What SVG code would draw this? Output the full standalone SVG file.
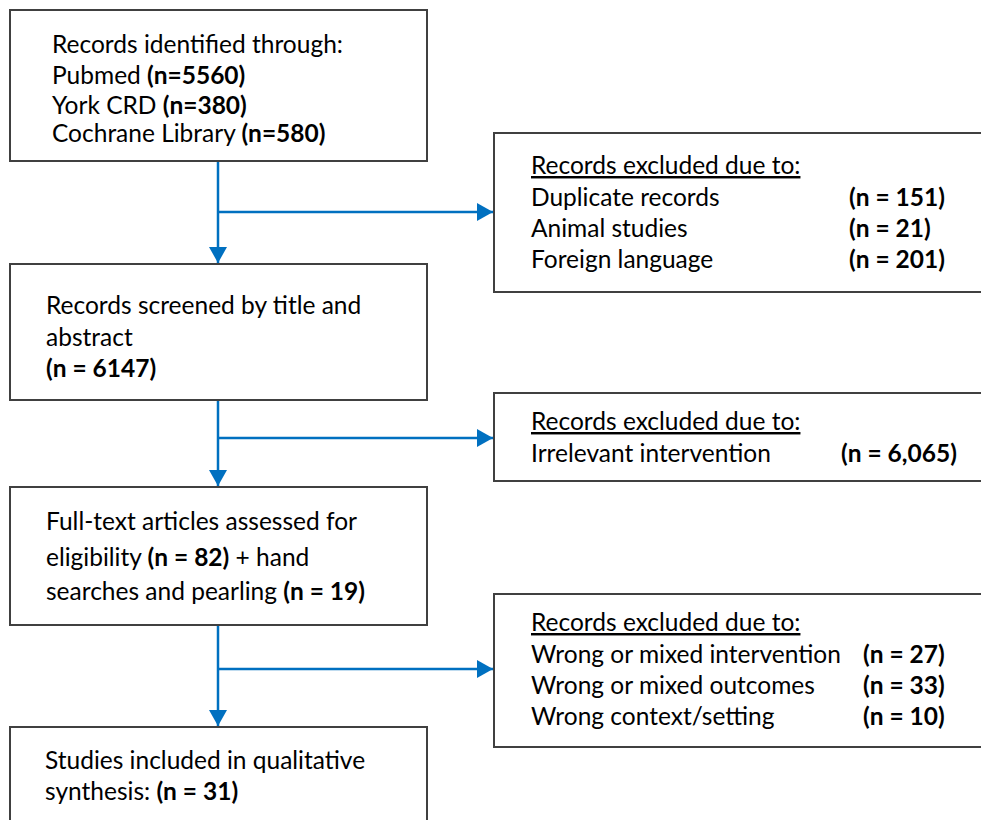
<svg xmlns="http://www.w3.org/2000/svg" width="981" height="820" viewBox="0 0 981 820">
<style>
.box{fill:#fff;stroke:#404040;stroke-width:2}
text{font-family:Lato,"Liberation Sans",sans-serif;font-size:24.5px;fill:#000}
.b{font-weight:bold}
.u{text-decoration:underline}
.conn{stroke:#0070C0;stroke-width:2.5;fill:none}
</style>
<defs>
<marker id="ah" viewBox="0 0 16 18" refX="16" refY="9" markerWidth="16" markerHeight="18" markerUnits="userSpaceOnUse" orient="auto">
<path d="M0,0 L16,9 L0,18 Z" fill="#0070C0"/>
</marker>
</defs>
<rect width="981" height="820" fill="#fff"/>
<g id="connectors">
<path class="conn" d="M218,161 V263" marker-end="url(#ah)"/>
<path class="conn" d="M218,212 H493" marker-end="url(#ah)"/>
<path class="conn" d="M218,400 V486" marker-end="url(#ah)"/>
<path class="conn" d="M218,438 H493" marker-end="url(#ah)"/>
<path class="conn" d="M218,625 V726" marker-end="url(#ah)"/>
<path class="conn" d="M218,669 H493" marker-end="url(#ah)"/>
</g>
<g id="n1">
<rect class="box" x="10" y="10" width="417" height="151"/>
<text x="52" y="53">Records identified through:</text>
<text x="52" y="84">Pubmed <tspan class="b">(n=5560)</tspan></text>
<text x="52" y="114">York CRD <tspan class="b">(n=380)</tspan></text>
<text x="52" y="142">Cochrane Library <tspan class="b">(n=580)</tspan></text>
</g>
<g id="x1">
<rect class="box" x="494" y="133" width="500" height="159"/>
<text x="531" y="174" class="u">Records excluded due to:</text>
<text x="531" y="206">Duplicate records</text>
<text x="849" y="206" class="b">(n = 151)</text>
<text x="531" y="237">Animal studies</text>
<text x="849" y="237" class="b">(n = 21)</text>
<text x="531" y="268">Foreign language</text>
<text x="849" y="268" class="b">(n = 201)</text>
</g>
<g id="n2">
<rect class="box" x="10" y="264" width="417" height="136"/>
<text x="46" y="314">Records screened by title and</text>
<text x="46" y="346">abstract</text>
<text x="46" y="377" class="b">(n = 6147)</text>
</g>
<g id="x2">
<rect class="box" x="494" y="393" width="500" height="88"/>
<text x="531" y="430" class="u">Records excluded due to:</text>
<text x="531" y="462">Irrelevant intervention</text>
<text x="841" y="462" class="b">(n = 6,065)</text>
</g>
<g id="n3">
<rect class="box" x="10" y="487" width="417" height="138"/>
<text x="46" y="530">Full-text articles assessed for</text>
<text x="46" y="566">eligibility <tspan class="b">(n = 82)</tspan> + hand</text>
<text x="46" y="600">searches and pearling <tspan class="b">(n = 19)</tspan></text>
</g>
<g id="x3">
<rect class="box" x="494" y="594" width="500" height="153"/>
<text x="531" y="631" class="u">Records excluded due to:</text>
<text x="531" y="663">Wrong or mixed intervention</text>
<text x="863" y="663" class="b">(n = 27)</text>
<text x="531" y="694">Wrong or mixed outcomes</text>
<text x="863" y="694" class="b">(n = 33)</text>
<text x="531" y="725">Wrong context/setting</text>
<text x="863" y="725" class="b">(n = 10)</text>
</g>
<g id="n4">
<rect class="box" x="10" y="727" width="417" height="110"/>
<text x="45" y="769">Studies included in qualitative</text>
<text x="45" y="800">synthesis: <tspan class="b">(n = 31)</tspan></text>
</g>
</svg>
